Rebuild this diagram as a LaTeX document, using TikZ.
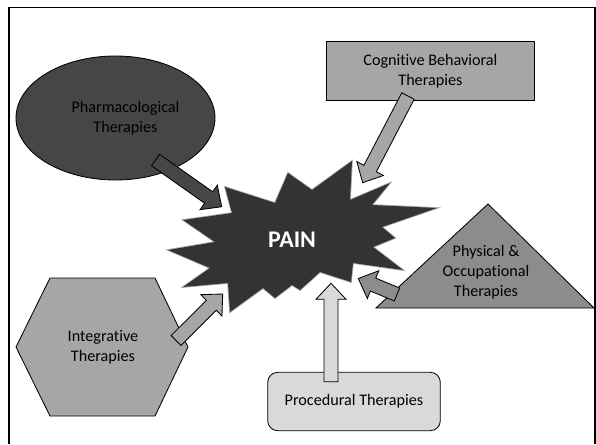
\documentclass[tikz,border=0pt]{standalone}
\usepackage{fontspec}
\setmainfont{Carlito}[Ligatures=CommonOff]
\usetikzlibrary{calc,shapes.geometric}

\definecolor{painfill}{HTML}{333333}
\definecolor{pharmafill}{HTML}{464646}
\definecolor{cbtfill}{HTML}{A6A6A6}
\definecolor{physfill}{HTML}{8C8C8C}
\definecolor{integfill}{HTML}{A6A6A6}
\definecolor{procfill}{HTML}{D9D9D9}

% block arrow from #1 to #2, filled with #3
\newcommand{\blockarrow}[3]{%
  \coordinate (neck) at ($(#2)!4mm!(#1)$);
  \draw[arrowline, fill=#3] ($(#1)!1.75mm!90:(#2)$) -- ($(neck)!1.75mm!90:(#2)$)
    -- ($(neck)!3.75mm!90:(#2)$) -- (#2) -- ($(neck)!3.75mm!-90:(#2)$)
    -- ($(neck)!1.75mm!-90:(#2)$) -- ($(#1)!1.75mm!-90:(#2)$) -- cycle;}

\begin{document}
\begin{tikzpicture}[x=0.25mm, y=-0.25mm, font=\fontsize{11.5pt}{14.2pt}\selectfont,
    shapeline/.style={draw=black, line width=0.6pt},
    arrowline/.style={draw=black, line width=0.6pt, line join=miter},
    painstar/.style={fill=painfill, preaction={draw=white, line width=4pt},
      preaction={draw=black!30, line width=1.2pt}}]
            \useasboundingbox (0,0) rectangle (596,444);
            \draw[line width=1.4pt] (9,444) -- (9,7.5) -- (595,7.5) -- (595,444);

            % Nodes
            \node[ellipse, shapeline, fill=pharmafill, minimum width=49.75mm, minimum height=31mm, align=center] (pharma) at (115.5,118) {\hspace*{5mm}Pharmacological\\\hspace*{5mm}Therapies};
            \node[shapeline, fill=cbtfill, minimum width=51.8mm, minimum height=14.75mm, align=center] (cbt) at (430.4,71.2) {Cognitive Behavioral\\Therapies};
            \draw[shapeline, fill=physfill] (376,308) -- (488,204) -- (594,308) -- cycle;
            \node[align=center] (phys) at (486,272) {Physical \&\\Occupational\\Therapies};
            \draw[shapeline, fill=integfill] (16,347) -- (50,278) -- (155,278) -- (188,347) -- (155,416) -- (50,416) -- cycle;
            \node[align=center] (integ) at (103,347) {Integrative\\Therapies};
            \node[shapeline, fill=procfill, rounded corners=2.5mm, minimum width=43.15mm, minimum height=14.6mm] (proc) at (354,401.5) {Procedural Therapies};

            % Arrow ends
            \coordinate (pharma-out) at (155.5,160);
            \coordinate (pain-nw) at (221.7,206.7);
            \coordinate (cbt-out) at (408,96);
            \coordinate (pain-ne) at (362.7,182.7);
            \coordinate (integ-out) at (176,340.5);
            \coordinate (pain-sw) at (222.7,294);
            \coordinate (proc-out) at (331,381.7);
            \coordinate (pain-s) at (331,283.3);
            \coordinate (phys-out) at (397,294.5);
            \coordinate (pain-se) at (358.3,278.5);

            % Lines
            \blockarrow{pharma-out}{pain-nw}{pharmafill}
            \blockarrow{cbt-out}{pain-ne}{cbtfill}
            \blockarrow{integ-out}{pain-sw}{integfill}
            \blockarrow{proc-out}{pain-s}{procfill}
            \blockarrow{phys-out}{pain-se}{physfill}

            % Star
            \path[painstar] (225,187) -- (275,203) -- (288,173) -- (312,190) -- (352,161) -- (350,200)
              -- (390,183) -- (372,205) -- (437,208) -- (382,227) -- (395,238) -- (373,247)
              -- (403,270) -- (353,263) -- (351,282) -- (320,272) -- (300,290) -- (292,285)
              -- (275,298) -- (263,288) -- (230,312) -- (228,283) -- (183,287) -- (210,268)
              -- (168,250) -- (215,242) -- (183,220) -- (232,213) -- cycle;
            \node[text=white, font=\fontsize{17pt}{20pt}\selectfont\bfseries] (pain) at (292,240) {PAIN};
        \end{tikzpicture}
\end{document}
